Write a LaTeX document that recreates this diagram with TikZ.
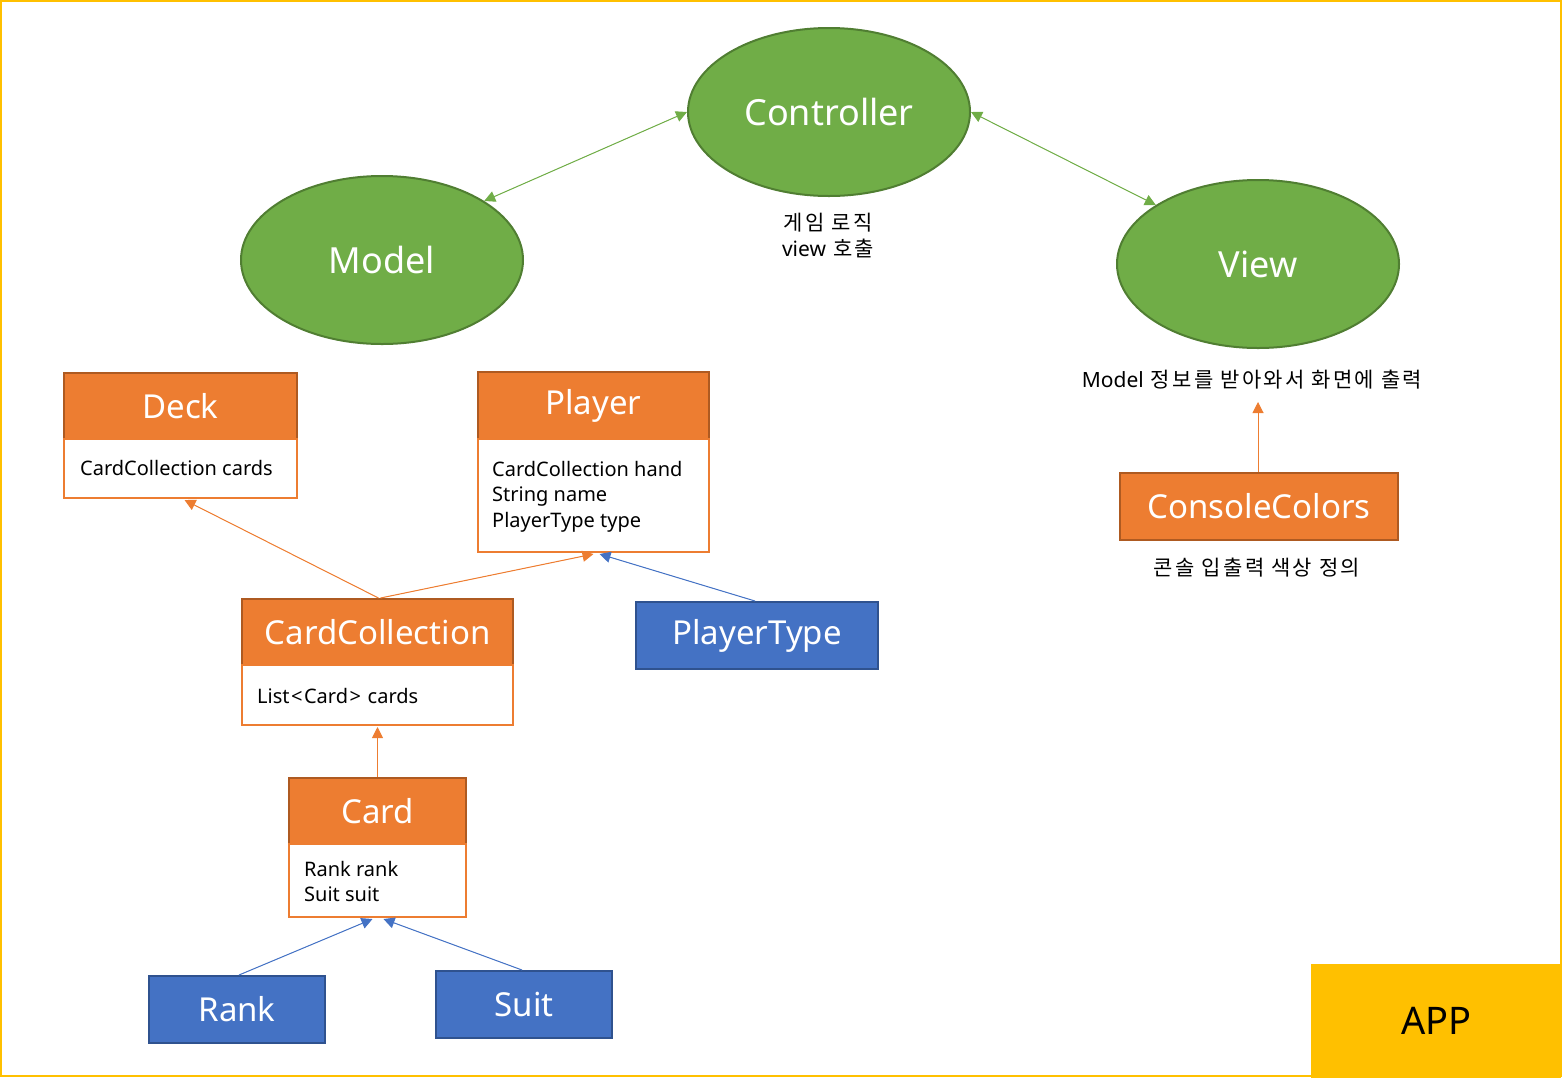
\documentclass[tikz,border=0pt]{standalone}
\usepackage{fontspec}
\setmainfont{Noto Sans}
\newfontfamily\kr[LetterSpace=11]{Noto Sans CJK KR}
\usetikzlibrary{shapes.geometric,arrows.meta,calc}
\definecolor{og}{HTML}{ED7D31}
\definecolor{ogd}{HTML}{AE5A21}
\definecolor{bl}{HTML}{4472C4}
\definecolor{bld}{HTML}{2F528F}
\definecolor{gr}{HTML}{70AD47}
\definecolor{grd}{HTML}{507E32}
\definecolor{yl}{HTML}{FFC000}
\tikzset{
  ell/.style={ellipse, fill=gr, draw=grd, line width=2, minimum width=282, minimum height=168, inner sep=0, text=white, font=\fontsize{36}{44}\selectfont},
  hdr/.style={rectangle, fill=og, draw=ogd, line width=2, anchor=north west, inner sep=0, text=white, font=\fontsize{33}{40}\selectfont},
  enumbox/.style={rectangle, fill=bl, draw=bld, line width=2, anchor=north west, inner sep=0, text=white, font=\fontsize{33}{40}\selectfont},
  bodybox/.style={rectangle, fill=white, draw=og, line width=2, anchor=north west, inner sep=0},
  bodytxt/.style={anchor=west, inner sep=0, align=left, font=\fontsize{20}{25.5}\selectfont},
  note/.style={inner sep=0, align=center, font=\kr\fontsize{21}{26}\selectfont},
  garrow/.style={draw=gr, line width=1, {Triangle[length=11,width=11]}-{Triangle[length=11,width=11]}, fill=gr},
  oarrow/.style={draw=og, line width=1, -{Triangle[length=11,width=11]}, fill=og},
  barrow/.style={draw=bl, line width=1, -{Triangle[length=11,width=11]}, fill=bl},
}
\begin{document}
\begin{tikzpicture}[x=1pt,y=-1pt]
\useasboundingbox (0,0) rectangle (1562,1077);
\draw[draw=yl, line width=2] (1,1) rectangle (1561,1076);
\node[rectangle, fill=yl, anchor=north west, minimum width=250, minimum height=114, inner sep=0, font=\fontsize{38}{44}\selectfont] (app) at (1311,964) {APP};

% ellipses
\node[ell] (ctrl) at (829,112) {Controller};
\node[ell] (model) at (382,260) {Model};
\node[ell] (view) at (1258,264) {View};
\draw[garrow] (model.30) -- (ctrl.west);
\draw[garrow] (ctrl.east) -- (view.150);

\node[note] (ctrltxt) at (828,236) {게임 로직\\\textnormal{view} 호출};
\node[note] (viewtxt) at (1252,380) {\textnormal{Model} 정보를 받아와서 화면에 출력};
\node[note] (cctxt) at (1257,568) {콘솔 입출력 색상 정의};

% Deck
\node[hdr, minimum width=233, minimum height=66] (deckH) at (63,372) {Deck};
\node[bodybox, minimum width=233, minimum height=59] (deckB) at (63,438) {};
\node[bodytxt] (deckT) at (80,467.5) {CardCollection cards};

% Player
\node[hdr, minimum width=231, minimum height=67] (playerH) at (477,371) {Player};
\node[bodybox, minimum width=231, minimum height=113] (playerB) at (477,438) {};
\node[bodytxt] (playerT) at (492,496.5) {CardCollection hand\\String name\\PlayerType type};

% CardCollection
\node[hdr, minimum width=271, minimum height=66] (ccH) at (241,598) {CardCollection};
\node[bodybox, minimum width=271, minimum height=60] (ccB) at (241,664) {};
\node[bodytxt] (ccT) at (257,696) {List\kern1.5pt<\kern1.5pt Card\kern1.5pt>\kern1.5pt{} cards};

% Card
\node[hdr, minimum width=177, minimum height=66] (cardH) at (288,777) {Card};
\node[bodybox, minimum width=177, minimum height=73] (cardB) at (288,843) {};
\node[bodytxt] (cardT) at (304,881.5) {Rank rank\\Suit suit};

% enums
\node[enumbox, minimum width=242, minimum height=67] (ptype) at (635,601) {PlayerType};
\node[enumbox, minimum width=176, minimum height=67] (rank) at (148,975) {Rank};
\node[enumbox, minimum width=176, minimum height=67] (suit) at (435,970) {Suit};

% ConsoleColors
\node[hdr, minimum width=278, minimum height=67] (cons) at (1119,472) {ConsoleColors};
\coordinate (vt) at (1258,402);

% connectors
\draw[oarrow] ($(ccH.north)+(1,0)$) -- ($(deckB.south)+(4,1)$);
\draw[oarrow] ($(ccH.north)+(3,0)$) -- ($(playerB.south)+(0,1)$);
\draw[barrow] ($(ptype.north)+(-2,0)$) -- ($(playerB.south)+(6,1)$);
\draw[oarrow] (cardH.north) -- ($(ccB.south)+(0,1)$);
\draw[barrow] ($(rank.north)+(2,0)$) -- ($(cardB.south)+(-5,1)$);
\draw[barrow] ($(suit.north)+(-2,0)$) -- ($(cardB.south)+(6,1)$);
\draw[oarrow] (cons.north -| vt) -- (vt);
\end{tikzpicture}
\end{document}
